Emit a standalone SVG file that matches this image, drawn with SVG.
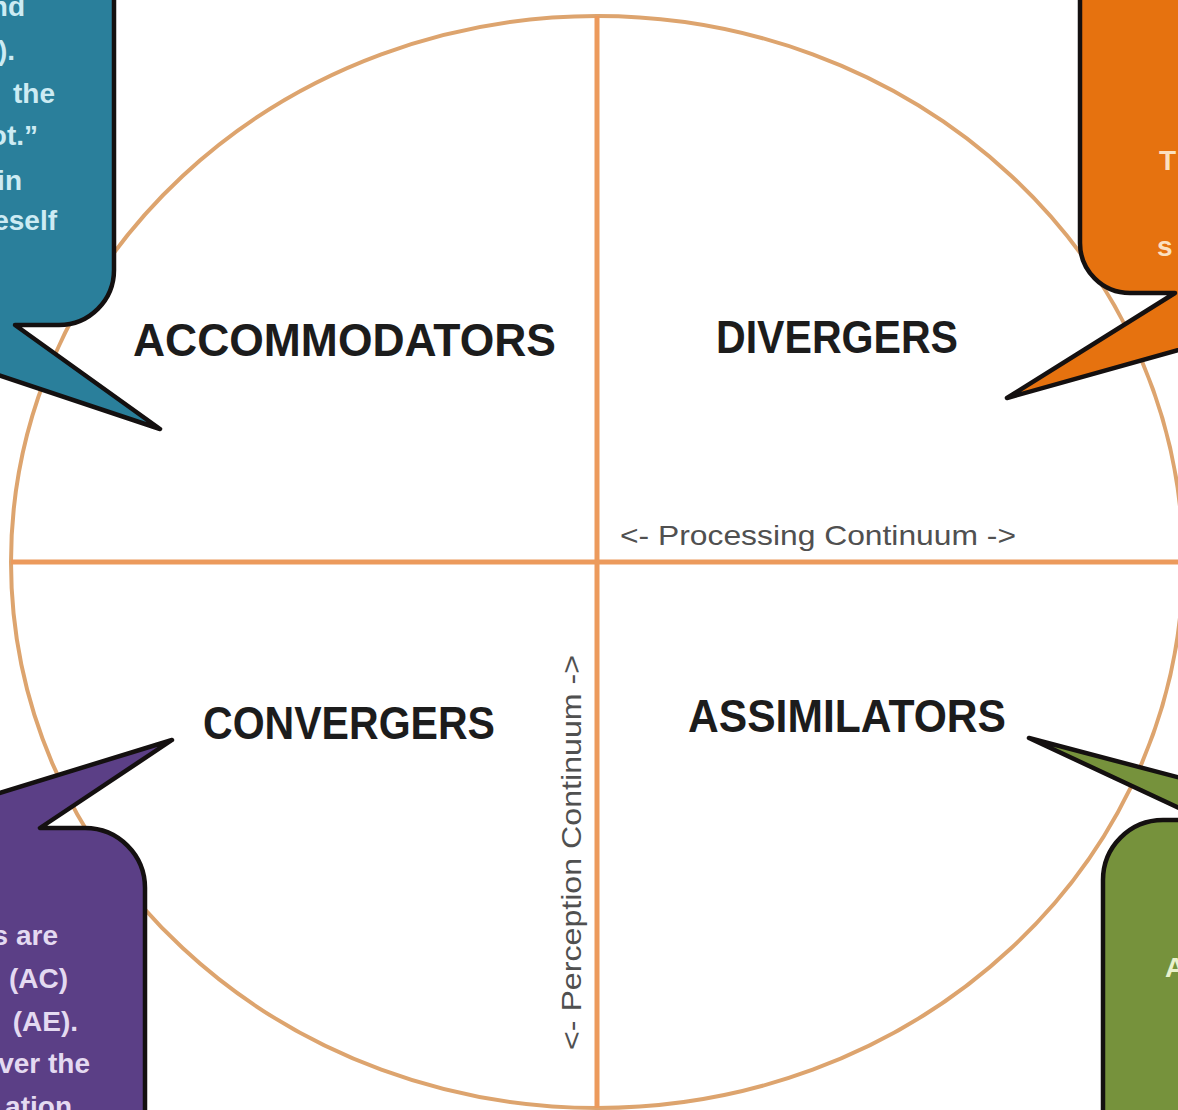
<svg xmlns="http://www.w3.org/2000/svg" width="1178" height="1110" viewBox="0 0 1178 1110">
<style>
.axis{stroke:#EC9A5C;stroke-width:5;fill:none}
.ring{stroke:#DDA46E;stroke-width:4;fill:none}
.call{stroke:#141010;stroke-width:4.5;stroke-linejoin:round}
.lab{font-family:"Liberation Sans",Arial,sans-serif;font-weight:bold;font-size:46px;fill:#1c1c1c}
.cont{font-family:"Liberation Sans",Arial,sans-serif;font-size:28px;fill:#505050}
.ct{font-family:"Liberation Sans",Arial,sans-serif;font-weight:bold;font-size:28px}
</style>
<rect width="1178" height="1110" fill="#ffffff"/>
<g id="connectors">
<ellipse class="ring" cx="597" cy="562" rx="586" ry="546"/>
<line class="axis" x1="11" y1="562" x2="1183" y2="562"/>
<line class="axis" x1="597" y1="16" x2="597" y2="1108"/>
</g>
<g id="axis-labels">
<text class="cont" x="620" y="545" textLength="396" lengthAdjust="spacingAndGlyphs">&lt;- Processing Continuum -&gt;</text>
<text class="cont" transform="translate(581,1050) rotate(-90)" textLength="395" lengthAdjust="spacingAndGlyphs">&lt;- Perception Continuum -&gt;</text>
</g>
<g id="accommodators">
<text class="lab" x="133" y="356" textLength="423" lengthAdjust="spacingAndGlyphs">ACCOMMODATORS</text>
</g>
<g id="divergers">
<text class="lab" x="716" y="353" textLength="242" lengthAdjust="spacingAndGlyphs">DIVERGERS</text>
</g>
<g id="convergers">
<text class="lab" x="203" y="739" textLength="292" lengthAdjust="spacingAndGlyphs">CONVERGERS</text>
</g>
<g id="assimilators">
<text class="lab" x="688" y="732" textLength="318" lengthAdjust="spacingAndGlyphs">ASSIMILATORS</text>
</g>
<g id="callout-teal">
<path class="call" fill="#2A7F9B" d="M-20,-20 H114 V270 A55,55 0 0 1 59,325 H15 L160,429 L-20,369 Z"/>
<g class="ct" fill="#CDEBF3" text-anchor="end">
<text x="25" y="16">nd</text>
<text x="15" y="60">).</text>
<text x="55" y="103">the</text>
<text x="38" y="145">ot.”</text>
<text x="22" y="190">in</text>
<text x="57" y="230">eself</text>
</g>
</g>
<g id="callout-orange">
<path class="call" fill="#E6720F" d="M1080,-20 V243 A50,50 0 0 0 1130,293 H1175 L1007,398 L1200,344 V-20 Z"/>
<g class="ct" fill="#FBE1C0">
<text x="1159" y="170">T</text>
<text x="1157" y="256">s</text>
</g>
</g>
<g id="callout-purple">
<path class="call" fill="#5B3F86" d="M-20,799 L172,740 L40,828 H85 A60,60 0 0 1 145,888 V1130 H-20 Z"/>
<g class="ct" fill="#E4DAF1" text-anchor="end">
<text x="58" y="945">s are</text>
<text x="68" y="988">(AC)</text>
<text x="78" y="1031">(AE).</text>
<text x="90" y="1073">ver the</text>
<text x="72" y="1116">ation</text>
</g>
</g>
<g id="callout-green">
<path class="call" fill="#76923C" d="M1103,1130 V880 A60,60 0 0 1 1163,820 H1205 L1029,738 L1230,791 V1130 Z"/>
<g class="ct" fill="#EAF2CC">
<text x="1165" y="977">A</text>
</g>
</g>
</svg>
